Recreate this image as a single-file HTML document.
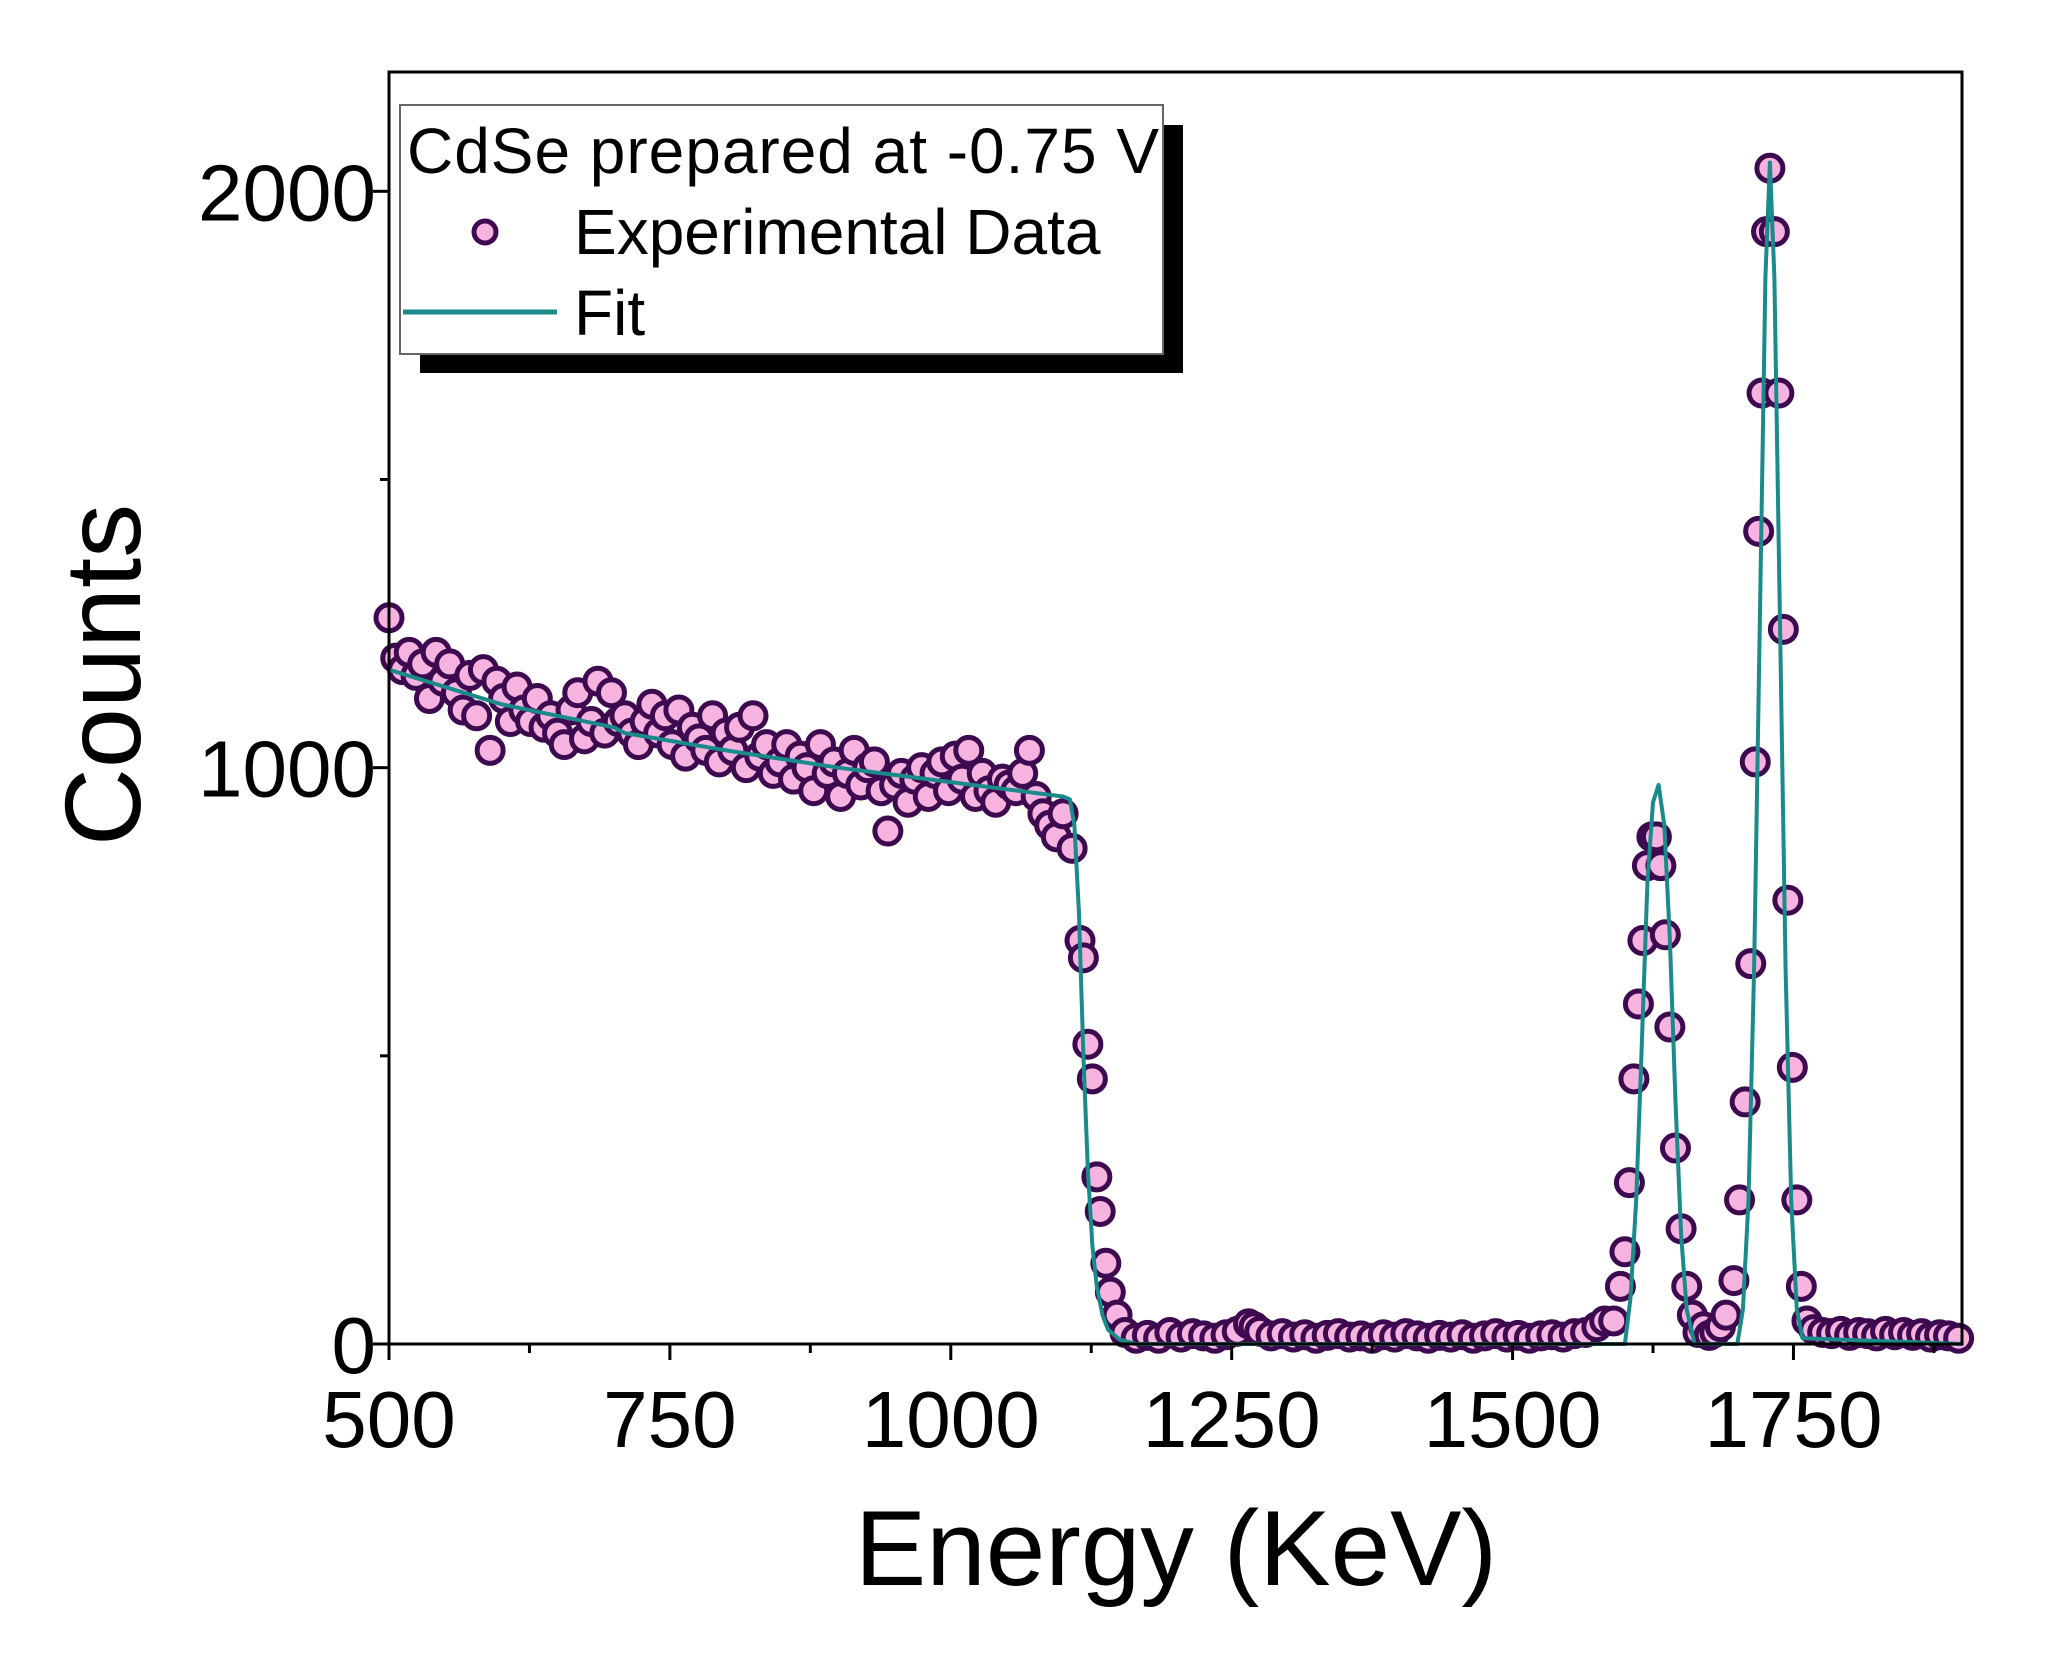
<!DOCTYPE html>
<html><head><meta charset="utf-8"><style>
html,body{margin:0;padding:0;background:#fff}
svg{display:block}
text{font-family:"Liberation Sans",Arial,sans-serif;fill:#000}
</style></head><body>
<svg id="chart" width="2052" height="1661" viewBox="0 0 2052 1661" xmlns="http://www.w3.org/2000/svg">
<rect x="0" y="0" width="2052" height="1661" fill="#fff"/>
<g id="plot"></g>
<rect x="389" y="72" width="1573" height="1272" fill="none" stroke="#000" stroke-width="3"/>
<g id="axes"></g>
<text x="1176" y="1585" font-size="107" text-anchor="middle">Energy (KeV)</text>
<text transform="translate(140,675) rotate(-90)" font-size="108" text-anchor="middle">Counts</text>
<g>
<rect x="420" y="125" width="763" height="248" fill="#000"/>
<rect x="400" y="105" width="763" height="249" fill="#fff" stroke="#666" stroke-width="2"/>
<text x="407" y="173" font-size="64" textLength="752">CdSe prepared at -0.75 V</text>
<circle cx="485" cy="232" r="11" fill="#f7b3e0" stroke="#3d0a50" stroke-width="5"/>
<text x="574" y="254" font-size="64">Experimental Data</text>
<line x1="403" y1="312" x2="557" y2="312" stroke="#1a8a8a" stroke-width="5"/>
<text x="574" y="335" font-size="64">Fit</text>
</g>
</svg>
<script>
const energy = [500,506,512,518,524,530,536,542,548,554,560,566,572,578,584,590,596,602,608,614,620,626,632,638,644,650,656,662,668,674,680,686,692,698,704,710,716,722,728,734,740,746,752,758,764,770,776,782,788,794,800,806,812,818,824,830,836,842,848,854,860,866,872,878,884,890,896,902,908,914,920,926,932,938,944,950,956,962,968,974,980,986,992,998,1004,1010,1016,1022,1028,1034,1040,1046,1052,1058,1064,1070,1076,1082,1088,1094,
1100,1108,1115,1118,1122,1126,1130,1133,1138,1142,1148,1155,1165,
1175,1185,1195,1205,1215,1225,1235,1245,1255,1265,1270,1275,1285,1295,1305,1315,1325,1335,1345,1355,1365,1375,1385,1395,1405,1415,1425,1435,1445,1455,1465,1475,1485,1495,1505,1515,1525,1535,1545,1555,1565,1575,1582,
1590,1596,1600,1604,1608,1612,1616,1620,1624,1628,1632,1636,1640,1645,1650,1655,1660,1665,1670,1675,1680,1685,
1690,1697,1702,1707,1712,1716,1719,1722,1726,1729,1733,1737,1741,1745,1749,1753,1757,1762,1768,1776,1784,1792,1800,1808,1816,1824,1832,1840,1848,1856,1864,1872,1880,1888,1897];
const counts = [1260,1190,1170,1200,1160,1180,1120,1200,1150,1180,1130,1100,1160,1090,1170,1030,1150,1120,1080,1140,1100,1080,1120,1070,1090,1060,1040,1100,1130,1050,1080,1150,1060,1130,1080,1090,1060,1040,1080,1110,1060,1090,1040,1100,1020,1070,1050,1030,1090,1010,1060,1030,1070,1000,1090,1020,1040,990,1010,1040,980,1020,1000,960,1040,990,1010,950,990,1030,970,1000,1010,960,890,970,990,940,980,1000,950,990,1010,960,1020,980,1030,950,990,960,940,980,970,960,990,1030,950,920,900,880,
920,860,700,670,520,460,290,230,140,90,50,20,10,
15,10,20,12,18,14,10,16,22,35,30,22,14,18,12,16,10,15,18,12,14,10,16,12,18,14,10,15,12,16,10,14,18,12,15,10,14,16,12,18,20,30,40,
40,100,160,280,460,590,700,830,880,880,830,710,550,340,200,100,50,20,30,15,20,30,
50,110,250,420,660,1010,1410,1650,1930,2040,1930,1650,1240,770,480,250,100,40,25,20,18,22,15,20,18,14,22,16,20,15,18,12,16,14,10];
const fitEnergy = [500,600,700,710,800,900,1000,1100,1106,1110,1114,1118,1122,1126,1130,1135,1140,1150,1165,1180,1600,1605,1610,1615,1620,1625,1630,1635,1640,1645,1650,1655,1662,1700,1705,1710,1715,1720,1725,1729,1733,1738,1743,1748,1753,1758,1900];
const fitCounts = [1170,1110,1070,1060,1030,1000,975,950,945,900,750,500,300,170,100,50,25,8,0,0,0,80,250,520,800,940,970,900,700,420,190,60,0,0,60,250,650,1250,1850,2050,1850,1250,650,250,60,10,0];
const xTicks = [500,750,1000,1250,1500,1750];
const xMinor = [625,875,1125,1375,1625,1875];
const yTicks = [0,1000,2000];
const yMinor = [500,1500];

const X0=389,X1=1962,Y0=1344,Ytop=72;
const xmin=500,xmax=1900,ymin=0,ymax=2207;
const sx=v=>X0+(v-xmin)/(xmax-xmin)*(X1-X0);
const sy=v=>Y0-(v-ymin)/(ymax-ymin)*(Y0-Ytop);
const NS="http://www.w3.org/2000/svg";
const plot=document.getElementById('plot'), axes=document.getElementById('axes');
function mk(tag,attrs,parent){const e=document.createElementNS(NS,tag);for(const k in attrs)e.setAttribute(k,attrs[k]);parent.appendChild(e);return e;}

const n=Math.min(energy.length,counts.length);
for(let i=0;i<n;i++){
  const c=mk('circle',{cx:sx(energy[i]),cy:sy(counts[i]),r:13,fill:'#f7b3e0',stroke:'#3d0a50','stroke-width':5},plot);
  
  
}
let d='';
for(let i=0;i<fitEnergy.length;i++){d+=(i?'L':'M')+sx(fitEnergy[i]).toFixed(1)+','+sy(fitCounts[i]).toFixed(1);}
const fl=mk('path',{d:d,fill:'none',stroke:'#1a8a8a','stroke-width':4,'stroke-linejoin':'round'},plot);



xTicks.forEach(v=>{
  const t=mk('line',{x1:sx(v),x2:sx(v),y1:Y0,y2:Y0+16,stroke:'#000','stroke-width':3},axes);
  
  
  const l=mk('text',{x:sx(v),y:1447,'font-size':80,'text-anchor':'middle'},axes);
  l.textContent=v;
  
  
});
xMinor.forEach(v=>{
  const t=mk('line',{x1:sx(v),x2:sx(v),y1:Y0,y2:Y0+9,stroke:'#000','stroke-width':3},axes);
  
  
});
yTicks.forEach(v=>{
  const t=mk('line',{x1:X0-16,x2:X0,y1:sy(v),y2:sy(v),stroke:'#000','stroke-width':3},axes);
  
  
  const l=mk('text',{x:376,y:sy(v)+29,'font-size':80,'text-anchor':'end'},axes);
  l.textContent=v;
  
  
});
yMinor.forEach(v=>{
  const t=mk('line',{x1:X0-9,x2:X0,y1:sy(v),y2:sy(v),stroke:'#000','stroke-width':3},axes);
  
  
});
</script>
</body></html>
